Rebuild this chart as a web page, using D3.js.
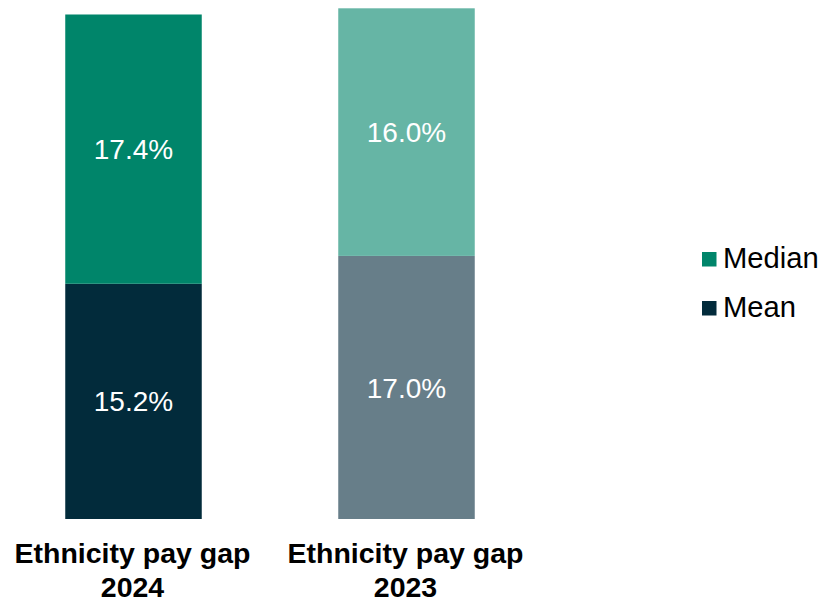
<!DOCTYPE html>
<html>
<head>
<meta charset="utf-8">
<script src="https://cdn.jsdelivr.net/npm/d3@7"></script>
<style>
  html, body { margin: 0; padding: 0; background: #ffffff; }
  svg { display: block; font-family: "Liberation Sans", Arial, sans-serif; }
</style>
</head>
<body>
<svg id="chart" width="825" height="603"></svg>
<script>
// Ethnicity pay gap, stacked mean + median per year
const categories = ["Ethnicity pay gap 2024", "Ethnicity pay gap 2023"];
const categoryLines = [["Ethnicity pay gap", "2024"], ["Ethnicity pay gap", "2023"]];
const meanValues = [15.2, 17.0];
const medianValues = [17.4, 16.0];
const seriesNames = ["Mean", "Median"];

// Per-bar fills: the 2023 bar uses lighter tints
const meanColors = ["#022b3b", "#677e89"];
const medianColors = ["#00856a", "#66b5a5"];
const legendColors = { Median: "#00856a", Mean: "#022b3b" };

const svg = d3.select("#chart");

const rows = categories.map((c, i) => ({ category: c, Mean: meanValues[i], Median: medianValues[i], idx: i }));
const stacked = d3.stack().keys(seriesNames)(rows);

const x = d3.scaleBand()
  .domain(categories)
  .range([-3, 543])
  .paddingInner(0.5)
  .paddingOuter(0.25);

const y = d3.scaleLinear()
  .domain([0, 33])
  .range([519, 8.3]);

const fillFor = (key, i) => key === "Mean" ? meanColors[i] : medianColors[i];

const layers = svg.append("g")
  .selectAll("g")
  .data(stacked)
  .join("g");

layers.selectAll("rect")
  .data(d => d.map(s => ({ key: d.key, s })))
  .join("rect")
  .attr("x", d => x(d.s.data.category))
  .attr("width", x.bandwidth())
  .attr("y", d => y(d.s[1]))
  .attr("height", d => y(d.s[0]) - y(d.s[1]))
  .attr("fill", d => fillFor(d.key, d.s.data.idx));

layers.selectAll("text")
  .data(d => d.map(s => ({ key: d.key, s })))
  .join("text")
  .attr("x", d => x(d.s.data.category) + x.bandwidth() / 2)
  .attr("y", d => (y(d.s[0]) + y(d.s[1])) / 2)
  .attr("dy", "0.36em")
  .attr("text-anchor", "middle")
  .attr("fill", "#ffffff")
  .attr("font-size", 28)
  .text(d => d.s.data[d.key].toFixed(1) + "%");

// Category labels (two lines, bold)
const labels = svg.append("g")
  .selectAll("text")
  .data(categories)
  .join("text")
  .attr("x", d => x(d) + x.bandwidth() / 2 - 1)
  .attr("y", 563)
  .attr("text-anchor", "middle")
  .attr("font-size", 28.5)
  .attr("font-weight", "bold")
  .attr("fill", "#000000");

labels.selectAll("tspan")
  .data((d, i) => categoryLines[i])
  .join("tspan")
  .attr("x", function () { return d3.select(this.parentNode).attr("x"); })
  .attr("dy", (d, j) => j === 0 ? 0 : 33.5)
  .text(d => d);

// Legend
const legendItems = ["Median", "Mean"];
const legend = svg.append("g")
  .selectAll("g")
  .data(legendItems)
  .join("g")
  .attr("transform", (d, i) => `translate(702, ${252 + i * 49})`);

legend.append("rect")
  .attr("width", 14.5)
  .attr("height", 14.5)
  .attr("fill", d => legendColors[d]);

legend.append("text")
  .attr("x", 21)
  .attr("y", 16.3)
  .attr("font-size", 29.2)
  .attr("fill", "#000000")
  .text(d => d);
</script>
</body>
</html>
